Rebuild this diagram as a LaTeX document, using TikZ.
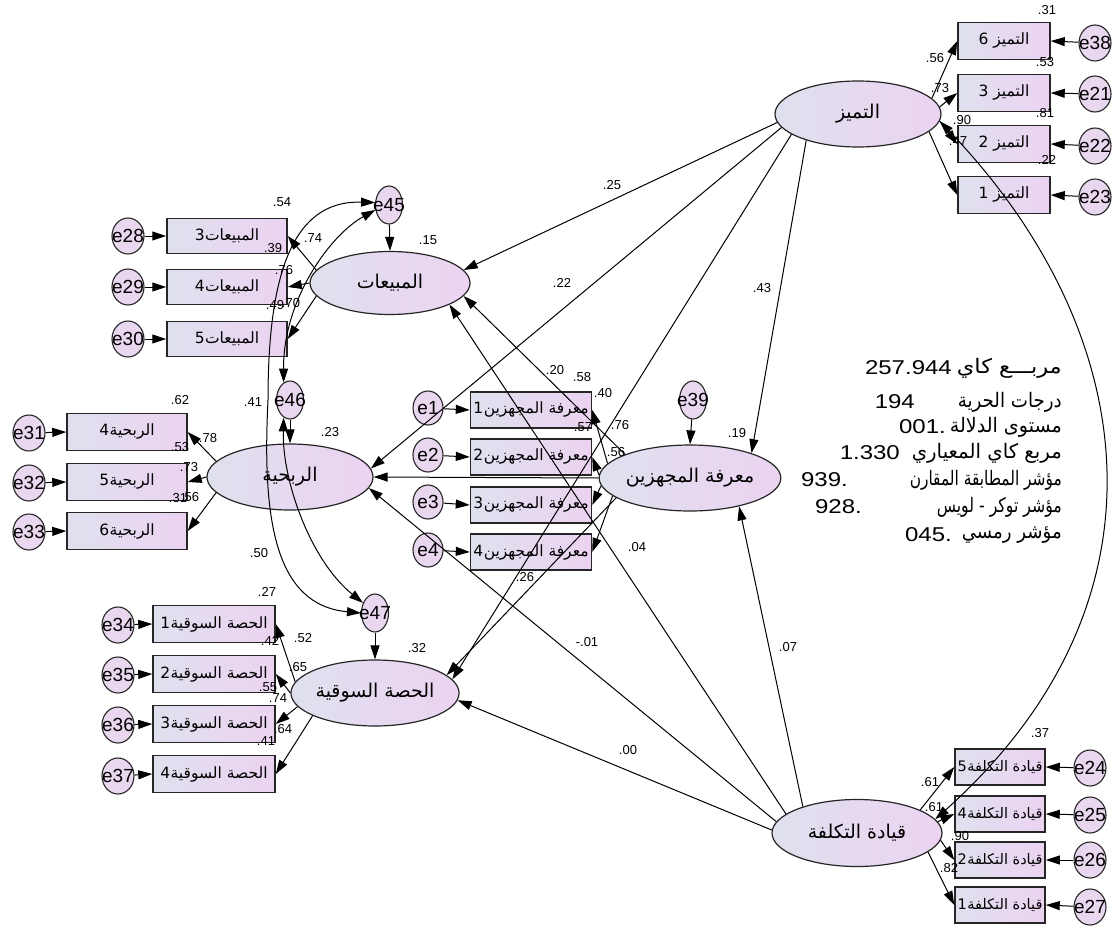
\documentclass[tikz,border=0pt]{standalone}
\usepackage{fontspec}
\usepackage{graphicx}
\setmainfont{Liberation Sans}
\newfontfamily\arabicfont[Script=Arabic]{DejaVu Sans}
\TeXXeTstate=1
\usetikzlibrary{shapes.geometric,arrows.meta}
\definecolor{fillL}{HTML}{DFE0EE}
\definecolor{fillR}{HTML}{ECD3F2}
\definecolor{errfill}{HTML}{E9D7F0}
\definecolor{edge}{HTML}{262626}
\newcommand{\ar}[1]{{\arabicfont\beginR #1\endR}}
\newcommand{\errnode}[4][]{\node[errc,#1] (#2) at (#3) {}; \node[etxt] (#2t) at (#2) {#4};}
\newcommand{\val}[3]{\node[num] (#1) at (#2) {#3};}
\newcommand{\wide}[1]{\scalebox{1.2}[1]{#1}}
% set a text to a given width, keeping its height
\newcommand{\fitw}[2]{\resizebox{#1}{\height}{#2}}
\tikzset{
  lat/.style={ellipse, draw=edge, line width=1.2pt, minimum width=166pt, minimum height=66pt,
    inner sep=0pt, left color=fillL, right color=fillR, font=\fontsize{19}{19}\selectfont},
  obs/.style={rectangle, draw=edge, line width=1.5pt, minimum height=36pt, inner sep=0pt,
    left color=fillL, right color=fillR, font=\fontsize{15.5}{15.5}\selectfont},
  errc/.style={ellipse, draw=edge, line width=1.1pt, minimum width=32pt, minimum height=36pt,
    inner sep=0pt, fill=errfill},
  resc/.style={minimum width=27pt, minimum height=38pt},
  etxt/.style={inner sep=0pt, font=\fontsize{19}{19}\selectfont},
  num/.style={inner sep=0pt, font=\fontsize{13}{13}\selectfont},
  statl/.style={inner sep=0pt, anchor=east, font=\fontsize{20}{20}\selectfont},
  statn/.style={inner sep=0pt, anchor=east, font=\fontsize{20}{20}\selectfont},
  link/.style={->, line width=1pt},
  cov/.style={<->, line width=1pt},
}
\begin{document}
\begin{tikzpicture}[x=1pt, y=-1pt, >={Triangle[length=14pt,width=9pt]}]
\useasboundingbox[fill=white] (0,0) rectangle (1116,928);

% latent variables
\node[lat] (tmz) at (858,114) {\ar{التميز}};
\node[lat, minimum width=160pt, minimum height=63pt] (mbi) at (390,283) {\ar{المبيعات}};
\node[lat] (rbh) at (290,477) {\ar{الربحية}};
\node[lat] (hss) at (375,693) {\ar{الحصة السوقية}};
\node[lat, minimum width=164pt] (mrf) at (690,478) {\ar{معرفة المجهزين}};
\node[lat, minimum width=170pt, minimum height=67pt] (qyd) at (857,833) {\ar{قيادة التكلفة}};

% indicators of distinction
\node[obs, minimum width=92pt, minimum height=37pt] (t6) at (1004,41) {\ar{التميز 6}};
\node[obs, minimum width=92pt, minimum height=37pt] (t3) at (1004,93) {\ar{التميز 3}};
\node[obs, minimum width=92pt, minimum height=37pt] (t2) at (1004,144) {\ar{التميز 2}};
\node[obs, minimum width=92pt, minimum height=37pt] (t1) at (1004,195) {\ar{التميز 1}};
% indicators of sales
\node[obs, minimum width=120pt, minimum height=35pt] (m3) at (227,236) {\ar{المبيعات\kern0.5pt 3}};
\node[obs, minimum width=120pt, minimum height=35pt] (m4) at (227,287) {\ar{المبيعات\kern0.5pt 4}};
\node[obs, minimum width=120pt, minimum height=35pt] (m5) at (227,339) {\ar{المبيعات\kern0.5pt 5}};
% indicators of profitability
\node[obs, minimum width=120pt, minimum height=37pt] (r4) at (127,432) {\ar{الربحية\kern0.5pt 4}};
\node[obs, minimum width=120pt, minimum height=37pt] (r5) at (127,482) {\ar{الربحية\kern0.5pt 5}};
\node[obs, minimum width=120pt, minimum height=37pt] (r6) at (127,531) {\ar{الربحية\kern0.5pt 6}};
% indicators of market share
\node[obs, minimum width=122pt, minimum height=37pt] (h1) at (214,624) {\ar{الحصة السوقية\kern0.5pt 1}};
\node[obs, minimum width=122pt, minimum height=37pt] (h2) at (214,674) {\ar{الحصة السوقية\kern0.5pt 2}};
\node[obs, minimum width=122pt, minimum height=37pt] (h3) at (214,724) {\ar{الحصة السوقية\kern0.5pt 3}};
\node[obs, minimum width=122pt, minimum height=37pt] (h4) at (214,774) {\ar{الحصة السوقية\kern0.5pt 4}};
% indicators of supplier knowledge
\node[obs, minimum width=121pt] (k1) at (531,410) {\ar{معرفة المجهزين\kern0.5pt 1}};
\node[obs, minimum width=121pt] (k2) at (531,457) {\ar{معرفة المجهزين\kern0.5pt 2}};
\node[obs, minimum width=121pt] (k3) at (531,505) {\ar{معرفة المجهزين\kern0.5pt 3}};
\node[obs, minimum width=121pt] (k4) at (531,552) {\ar{معرفة المجهزين\kern0.5pt 4}};
% indicators of cost leadership
\node[obs, minimum width=90pt, font=\fontsize{14.5}{14.5}\selectfont] (q5) at (1000,767) {\ar{قيادة التكلفة\kern0.5pt 5}};
\node[obs, minimum width=90pt, font=\fontsize{14.5}{14.5}\selectfont] (q4) at (1000,814) {\ar{قيادة التكلفة\kern0.5pt 4}};
\node[obs, minimum width=90pt, font=\fontsize{14.5}{14.5}\selectfont] (q2) at (1000,860) {\ar{قيادة التكلفة\kern0.5pt 2}};
\node[obs, minimum width=90pt, font=\fontsize{14.5}{14.5}\selectfont] (q1) at (1000,905) {\ar{قيادة التكلفة\kern0.5pt 1}};

% error terms
\errnode{e38}{1095,43}{e38}
\errnode{e21}{1095,94}{e21}
\errnode{e22}{1095,146}{e22}
\errnode{e23}{1095,197}{e23}
\errnode{e28}{128,236}{e28}
\errnode{e29}{128,287}{e29}
\errnode{e30}{128,339}{e30}
\errnode{e31}{29,433}{e31}
\errnode{e32}{29,483}{e32}
\errnode{e33}{29,532}{e33}
\errnode{e34}{118,625}{e34}
\errnode{e35}{118,675}{e35}
\errnode{e36}{118,725}{e36}
\errnode{e37}{118,776}{e37}
\errnode[minimum width=30pt, minimum height=34pt]{e1}{428,408}{e1}
\errnode[minimum width=30pt, minimum height=34pt]{e2}{428,455}{e2}
\errnode[minimum width=30pt, minimum height=34pt]{e3}{428,502}{e3}
\errnode[minimum width=30pt, minimum height=34pt]{e4}{428,550}{e4}
\errnode{e24}{1090,768}{e24}
\errnode{e25}{1090,815}{e25}
\errnode{e26}{1090,860}{e26}
\errnode{e27}{1090,907}{e27}
% disturbances
\errnode[resc]{e39}{693,400}{e39}
\errnode[resc]{e45}{389,205}{e45}
\errnode[resc]{e46}{290,400}{e46}
\errnode[resc]{e47}{375,613}{e47}

% measurement paths
\draw[link] (tmz.12) -- (t6.west);
\draw[link] (tmz.5) -- (t3.west);
\draw[link] (tmz.-5) -- (t2.west);
\draw[link] (tmz.-14) -- (t1.west);
\draw[link] (mbi.170) -- (m3.east);
\draw[link] (mbi.180) -- (m4.east);
\draw[link] (mbi.190) -- (m5.east);
\draw[link] (rbh.168) -- (r4.east);
\draw[link] (rbh.180) -- (r5.east);
\draw[link] (rbh.192) -- (r6.east);
\draw[link] (hss.172) -- (h1.east);
\draw[link] (hss.180) -- (h2.east);
\draw[link] (hss.190) -- (h3.east);
\draw[link] (hss.200) -- (h4.east);
\draw[link] (mrf.170) -- (k1.east);
\draw[link] (mrf.178) -- (k2.east);
\draw[link] (mrf.185) -- (k3.east);
\draw[link] (mrf.193) -- (k4.east);
\draw[link] (qyd.20) -- (q5.west);
\draw[link] (qyd.8) -- (q4.west);
\draw[link] (qyd.-5) -- (q2.west);
\draw[link] (qyd.-15) -- (q1.west);

% error paths
\foreach \e/\b in {e38/t6,e21/t3,e22/t2,e23/t1,e24/q5,e25/q4,e26/q2,e27/q1}
  \draw[link] (\e) -- (\b.east);
\foreach \e/\b in {e28/m3,e29/m4,e30/m5,e31/r4,e32/r5,e33/r6,e34/h1,e35/h2,e36/h3,e37/h4,e1/k1,e2/k2,e3/k3,e4/k4}
  \draw[link] (\e) -- (\b.west);
\draw[link] (e39) -- (mrf.north);
\draw[link] (e45) -- (mbi.north);
\draw[link] (e46) -- (rbh.north);
\draw[link] (e47) -- (hss.north);

% structural paths
\draw[link] (tmz.186) -- (mbi.10);
\draw[link] (tmz.190) -- (rbh.6);
\draw[link] (tmz.197) -- (hss.10);
\draw[link] (tmz.207) -- (mrf.22);
\draw[link] (qyd.165) -- (mbi.340);
\draw[link] (qyd.172) -- (rbh.352);
\draw[link] (qyd.178) -- (hss.355);
\draw[link] (qyd.154) -- (mrf.330);
\draw[link] (mrf.160) -- (mbi.350);
\draw[link] (mrf.180) -- (rbh.0);
\draw[link] (mrf.195) -- (hss.14);

% covariances
\draw[cov] (tmz.-5) .. controls (1140,330) and (1180,600) .. (qyd.10);
\draw[cov] (e45.200) .. controls (330,235) and (283,300) .. (e46.110);
\draw[cov] (e45.170) .. controls (290,200) and (268,280) .. (268,400)
   .. controls (262,520) and (275,605) .. (e47.180);
\draw[cov] (e46.250) .. controls (282,480) and (310,560) .. (e47.140);

% estimates
\val{v1}{1047,10}{.31}
\val{v2}{935,58}{.56}
\val{v3}{1045,62}{.53}
\val{v4}{940,88}{.73}
\val{v5}{1045,113}{.81}
\val{v6}{962,120}{.90}
\val{v7}{958,141}{.47}
\val{v8}{1047,160}{.22}
\val{v9}{612,185}{.25}
\val{v10}{562,283}{.22}
\val{v11}{762,288}{.43}
\val{v12}{428,240}{.15}
\val{v13}{282,202}{.54}
\val{v14}{313,238}{.74}
\val{v15}{273,248}{.39}
\val{v16}{284,270}{.76}
\val{v17}{275,305}{.49}
\val{v18}{291,303}{.70}
\val{v19}{253,402}{.41}
\val{v20}{180,400}{.62}
\val{v21}{208,438}{.78}
\val{v22}{180,447}{.53}
\val{v23}{189,467}{.73}
\val{v24}{178,498}{.31}
\val{v25}{190,497}{.56}
\val{v26}{330,432}{.23}
\val{v27}{259,553}{.50}
\val{v28}{267,592}{.27}
\val{v29}{303,638}{.52}
\val{v30}{270,641}{.42}
\val{v31}{298,667}{.65}
\val{v32}{268,687}{.55}
\val{v33}{278,698}{.74}
\val{v34}{283,729}{.64}
\val{v35}{266,741}{.41}
\val{v36}{417,648}{.32}
\val{v37}{555,370}{.20}
\val{v38}{582,377}{.58}
\val{v39}{603,393}{.40}
\val{v40}{620,425}{.76}
\val{v41}{583,427}{.57}
\val{v42}{616,452}{.56}
\val{v43}{737,433}{.19}
\val{v44}{637,547}{.04}
\val{v45}{525,577}{.26}
\val{v46}{587,642}{-.01}
\val{v47}{788,647}{.07}
\val{v48}{628,750}{.00}
\val{v49}{1040,733}{.37}
\val{v50}{930,782}{.61}
\val{v51}{934,807}{.61}
\val{v52}{960,836}{.90}
\val{v53}{949,868}{.82}

% fit indices
\node[statl] (s1) at (1062,368) {\fitw{105pt}{\ar{مربـــع كاي}}};
\node[statn] (n1) at (952,368) {\wide{257.944}};
\node[statl] (s2) at (1062,402) {\fitw{104pt}{\ar{درجات الحرية}}};
\node[statn] (n2) at (915,402) {\wide{194}};
\node[statl] (s3) at (1062,427) {\fitw{112pt}{\ar{مستوى الدلالة}}};
\node[statn] (n3) at (946,427) {\wide{001.}};
\node[statl] (s4) at (1062,453) {\fitw{150pt}{\ar{مربع كاي المعياري}}};
\node[statn] (n4) at (900,453) {\wide{1.330}};
\node[statl] (s5) at (1062,480) {\fitw{152pt}{\ar{مؤشر المطابقة المقارن}}};
\node[statn] (n5) at (848,480) {\wide{939.}};
\node[statl] (s6) at (1062,507) {\fitw{125pt}{\ar{مؤشر توكر - لويس}}};
\node[statn] (n6) at (862,507) {\wide{928.}};
\node[statl] (s7) at (1062,535) {\fitw{100pt}{\ar{مؤشر رمسي}}};
\node[statn] (n7) at (952,535) {\wide{045.}};
\end{tikzpicture}
\end{document}
